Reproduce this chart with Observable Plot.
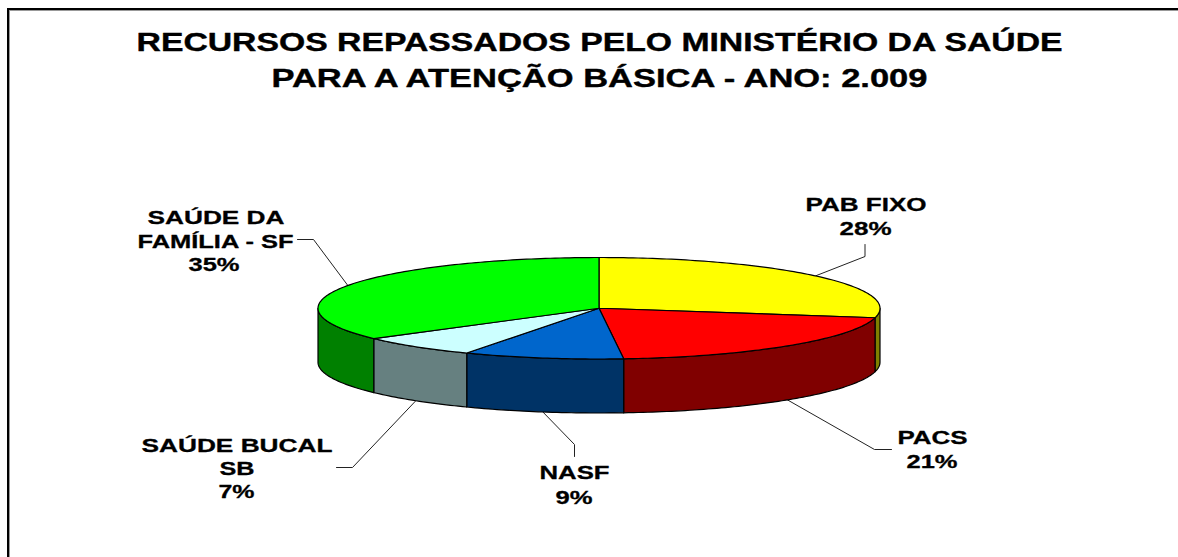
<!DOCTYPE html>
<html lang="pt">
<head>
<meta charset="utf-8">
<script src="https://cdn.jsdelivr.net/npm/d3@7"></script>
<script src="https://cdn.jsdelivr.net/npm/@observablehq/plot@0.6"></script>
<style>
  html, body { margin: 0; padding: 0; background: #fff; overflow: hidden; }
  #chart { position: relative; width: 1178px; height: 557px; }
  #frame { position: absolute; left: 7px; top: 8px; right: 0; bottom: 0;
           border-left: 2px solid #000; border-top: 2px solid #000;
           box-shadow: inset 1px 1px 0 #999; }
  #chart svg { position: absolute; left: 0; top: 0; background: transparent; }
</style>
</head>
<body>
<div id="chart"><div id="frame"></div></div>
<script>
// ---- data ----
const titleLines = ["RECURSOS REPASSADOS PELO MINISTÉRIO DA SAÚDE", "PARA A ATENÇÃO BÁSICA - ANO: 2.009"];
const categories = ["PAB FIXO", "PACS", "NASF", "SAÚDE BUCAL", "SAÚDE DA FAMÍLIA"];
const categoryLines = [["PAB FIXO"], ["PACS"], ["NASF"], ["SAÚDE BUCAL", "SB"], ["SAÚDE DA", "FAMÍLIA - SF"]];
const values = [28, 20.6, 9.2, 7, 35.2];
const topColors = ["#ffff00", "#ff0000", "#0066cc", "#ccffff", "#00ff00"];
const sideColors = ["#808000", "#800000", "#003366", "#668080", "#008000"];

// ---- layout (the pie is a unit circle: x = sin, y = cos) ----
const W = 1178, H = 557;
const xRange = [317.5, 879.5], yRange = [257, 358.5];
const ux = (px) => (px - (xRange[0] + xRange[1]) / 2) / ((xRange[1] - xRange[0]) / 2);
const uy = (py) => ((yRange[0] + yRange[1]) / 2 - py) / ((yRange[1] - yRange[0]) / 2);
const depth = 54 / ((yRange[1] - yRange[0]) / 2);

// elbow and end of each leader, label lines: [centre, baseline, width]
const leaders = [
  [[864.5, 256], [864.5, 244]],
  [[874, 449], [891, 449]],
  [[574, 444], [574, 456]],
  [[352, 467], [336, 467]],
  [[313, 239], [297, 239]]
];
const labelPlaces = [
  [[865.5, 210, 121], [865, 234.5, 52]],
  [[932, 443.5, 70], [931.5, 467.5, 51]],
  [[574, 478.5, 70], [573.5, 503, 37]],
  [[236.5, 451, 191], [236.5, 474, 35], [236, 497, 36]],
  [[215.5, 223, 137], [215, 247, 156], [213.5, 270.5, 51]]
];
const titlePlaces = [[599, 50.5, 926], [599, 86.5, 656]];

// ---- geometry from the values ----
const total = d3.sum(values);
const step = Math.PI / 180;
let acc = 0;
const slices = values.map((v, i) => {
  const a0 = acc / total * 2 * Math.PI;
  acc += v;
  return {i, a0, a1: acc / total * 2 * Math.PI};
});
const arc = (a0, a1) => {
  const n = Math.max(2, Math.ceil((a1 - a0) / step));
  return d3.range(n + 1).map((k) => a0 + (a1 - a0) * k / n);
};

const tops = slices.flatMap((s) => {
  const pts = [[0, 0], ...arc(s.a0, s.a1).map((a) => [Math.sin(a), Math.cos(a)]), [0, 0]];
  return pts.map(([x, y]) => ({x, y, id: s.i, fill: topColors[s.i]}));
});
const sides = slices.flatMap((s) => {
  const a0 = Math.max(s.a0, Math.PI / 2), a1 = Math.min(s.a1, 1.5 * Math.PI);
  if (a1 <= a0) return [];
  const as = arc(a0, a1);
  const pts = [
    ...as.map((a) => [Math.sin(a), Math.cos(a)]),
    ...as.slice().reverse().map((a) => [Math.sin(a), Math.cos(a) - depth])
  ];
  pts.push(pts[0]);
  return pts.map(([x, y]) => ({x, y, id: s.i, fill: sideColors[s.i]}));
});
const leaderPts = slices.flatMap((s) => {
  const m = (s.a0 + s.a1) / 2;
  const c = Math.cos(m);
  const start = [Math.sin(m), c < 0 ? c - depth : c];
  const rest = leaders[s.i].map(([px, py]) => [ux(px), uy(py)]);
  return [start, ...rest].map(([x, y]) => ({x, y, id: s.i}));
});

const labels = categories.flatMap((c, i) => {
  const lines = [...categoryLines[i], d3.format(".0f")(values[i] / total * 100) + "%"];
  return lines.map((text, k) => {
    const [cx, by, w] = labelPlaces[i][k];
    return {text, x: ux(cx), y: uy(by), w};
  });
});
const titles = titleLines.map((text, k) => {
  const [cx, by, w] = titlePlaces[k];
  return {text, x: ux(cx), y: uy(by), w};
});

const fontFamily = "'Liberation Sans', Arial, sans-serif";
const svg = Plot.plot({
  width: W, height: H,
  margin: 0,
  style: {background: "transparent", fontFamily},
  x: {domain: [-1, 1], range: xRange, axis: null},
  y: {domain: [1, -1], range: yRange, axis: null},
  color: {type: "identity"},
  marks: [
    Plot.line(leaderPts, {x: "x", y: "y", z: "id", stroke: "#222", strokeWidth: 1, curve: "linear"}),
    Plot.line(sides, {x: "x", y: "y", z: "id", fill: "fill", stroke: "#000", strokeWidth: 1.2, curve: "linear"}),
    Plot.line(tops, {x: "x", y: "y", z: "id", fill: "fill", stroke: "#000", strokeWidth: 1.2, curve: "linear", strokeLinejoin: "round"}),
    Plot.text(labels, {x: "x", y: "y", text: "text", lineAnchor: "bottom", textAnchor: "middle", fontSize: 19, fontWeight: "bold", fill: "#000", stroke: "#000", strokeWidth: 0.3}),
    Plot.text(titles, {x: "x", y: "y", text: "text", lineAnchor: "bottom", textAnchor: "middle", fontSize: 26, fontWeight: "bold", fill: "#000", stroke: "#000", strokeWidth: 0.4})
  ]
});

// the reference's lettering is stretched horizontally: fit each line to its measured width
const widths = new Map([...labels, ...titles].map((d) => [d.text, d.w]));
svg.querySelectorAll("text").forEach((t) => {
  const target = t.querySelector("tspan") || t;
  const w = widths.get(t.textContent);
  if (w) {
    target.setAttribute("textLength", w);
    target.setAttribute("lengthAdjust", "spacingAndGlyphs");
  }
});
document.getElementById("chart").appendChild(svg);
</script>
</body>
</html>
